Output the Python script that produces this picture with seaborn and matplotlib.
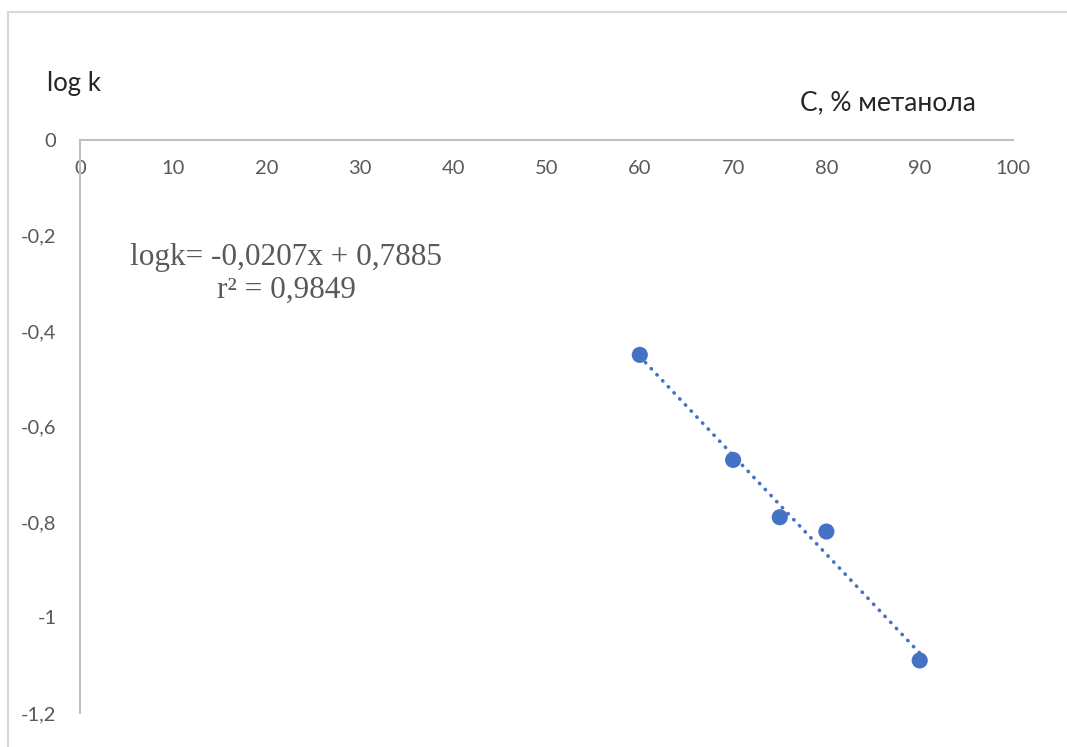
import numpy as np
import pandas as pd
import matplotlib
matplotlib.use("Agg")
import matplotlib.pyplot as plt
import seaborn as sns
from matplotlib.lines import Line2D
from matplotlib.ticker import FuncFormatter

# data
conc = [60, 70, 75, 80, 90]
logk = [-0.45, -0.67, -0.79, -0.82, -1.09]
x_ticks = [0, 10, 20, 30, 40, 50, 60, 70, 80, 90, 100]
y_ticks = [0, -0.2, -0.4, -0.6, -0.8, -1.0, -1.2]

df = pd.DataFrame({"C": conc, "logk": logk})

sns.set_style("white")
plt.rcParams["font.family"] = ["Lato", "DejaVu Sans"]

blue = "#4472C4"
grey_txt = "#595959"
grey_line = "#BFBFBF"

fig = plt.figure(figsize=(10.67, 7.47), dpi=100)
ax = fig.add_axes([80 / 1067, 1 - 713 / 747, (1013 - 80) / 1067, (713 - 140) / 747])

sns.regplot(x="C", y="logk", data=df, ci=None, scatter=False, ax=ax,
            line_kws={"color": blue, "lw": 2.6, "linestyle": (0, (0.1, 2.2)),
                      "dash_capstyle": "round"})
sns.scatterplot(x="C", y="logk", data=df, ax=ax, color=blue, s=135,
                edgecolor="none", zorder=3)

ax.set_xlim(0, 100)
ax.set_ylim(-1.2, 0)
ax.set_xticks(x_ticks)
ax.set_yticks(y_ticks)

def comma(v, pos):
    s = f"{v:g}"
    if s == "-0":
        s = "0"
    return s.replace(".", ",")

ax.yaxis.set_major_formatter(FuncFormatter(comma))
ax.xaxis.set_major_formatter(FuncFormatter(comma))

for side in ["right", "bottom"]:
    ax.spines[side].set_visible(False)
for side in ["top", "left"]:
    ax.spines[side].set_color(grey_line)
    ax.spines[side].set_linewidth(1.5)

ax.tick_params(axis="x", top=True, bottom=False, labeltop=True, labelbottom=False,
               length=0, pad=-27, labelsize=14.5, labelcolor=grey_txt)
ax.tick_params(axis="y", length=0, pad=17, labelsize=14.5, labelcolor=grey_txt)
ax.set_xlabel("")
ax.set_ylabel("")
ax.grid(False)

fig.text(47 / 1067, 1 - 83 / 747, "log k", fontsize=18.5, va="center", ha="left")
fig.text(888 / 1067, 1 - 103 / 747, "C, % метанола", fontsize=19, va="center", ha="center")

fig.text(286 / 1067, 1 - 257 / 747, "logk= -0,0207x + 0,7885", fontsize=22.5,
         family="Liberation Serif", color=grey_txt, ha="center", va="center")
fig.text(286 / 1067, 1 - 290 / 747, "r² = 0,9849", fontsize=22.5,
         family="Liberation Serif", color=grey_txt, ha="center", va="center")

# chart-area frame (top and left edges visible)
fig.add_artist(Line2D([8 / 1067, 1], [1 - 12 / 747] * 2, transform=fig.transFigure,
                      color="#D9D9D9", lw=1.5))
fig.add_artist(Line2D([8 / 1067] * 2, [0, 1 - 12 / 747], transform=fig.transFigure,
                      color="#D9D9D9", lw=1.5))

fig.savefig("out.png", dpi=100)
